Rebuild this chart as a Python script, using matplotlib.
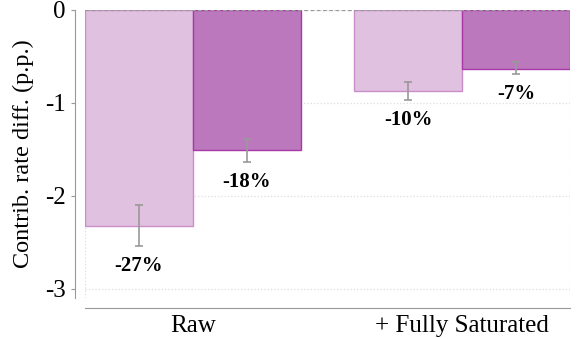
import matplotlib
matplotlib.use("Agg")
import matplotlib.pyplot as plt
import numpy as np

categories = ["Raw", "+ Fully Saturated"]
light_vals = [-2.32, -0.87]
light_lo = [-2.54, -0.97]
light_hi = [-2.10, -0.78]
dark_vals = [-1.51, -0.63]
dark_lo = [-1.64, -0.69]
dark_hi = [-1.39, -0.56]
light_labels = ["-27%", "-10%"]
dark_labels = ["-18%", "-7%"]

plt.rcParams["font.family"] = ["Liberation Serif", "DejaVu Serif"]

fig = plt.figure(figsize=(5.8, 3.39), dpi=100)
ax = fig.add_axes([85 / 580, 1 - 298 / 339, (570 - 85) / 580, (298 - 10) / 339])

x = np.arange(len(categories))
w = 0.4
series = [
    (x - w / 2, light_vals, light_lo, light_hi, light_labels, "#e1c1e0", "#c98ec8"),
    (x + w / 2, dark_vals, dark_lo, dark_hi, dark_labels, "#bc78bc", "#a838a8"),
]
for xs, vals, lo, hi, labs, fc, ec in series:
    ax.bar(xs, vals, width=w, color=fc, edgecolor=ec, linewidth=1, zorder=2)
    vals = np.array(vals)
    yerr = [vals - np.array(lo), np.array(hi) - vals]
    ax.errorbar(xs, vals, yerr=yerr, fmt="none", ecolor="#999999",
                elinewidth=1.2, capsize=3, capthick=1.2, zorder=3)
    for xi, l, t in zip(xs, lo, labs):
        ax.annotate(t, (xi, l), xytext=(0, -7), textcoords="offset points",
                    ha="center", va="top", fontsize=15, fontweight="bold")

ax.axhline(0, color="#999999", linestyle=(0, (3, 2)), linewidth=0.9, zorder=4)

ax.set_xlim(-0.4, 1.4)
ax.set_ylim(-3.1, 0)
ax.set_yticks([0, -1, -2, -3])
ax.set_yticklabels(["0", "-1", "-2", "-3"])
ax.set_xticks(x)
ax.set_xticklabels(categories)
ax.tick_params(axis="y", labelsize=18, length=3, color="#999999", pad=4)
ax.tick_params(axis="x", labelsize=18, length=0, pad=5)
ax.set_ylabel("Contrib. rate diff. (p.p.)", fontsize=17.5, labelpad=8)

ax.set_xticks([-0.4, 0, 1, 1.4], minor=True)
ax.grid(True, which="major", axis="y", color="#dddddd", linestyle=":", linewidth=0.9, zorder=0)
ax.grid(True, which="minor", axis="x", color="#dddddd", linestyle=":", linewidth=0.9, zorder=0)
ax.tick_params(axis="x", which="minor", length=0)

for s in ["top", "right"]:
    ax.spines[s].set_visible(False)
ax.spines["left"].set_position(("outward", 7))
ax.spines["bottom"].set_position(("outward", 7))
ax.spines["left"].set_color("#999999")
ax.spines["bottom"].set_color("#999999")

fig.savefig("out.png", dpi=100)
